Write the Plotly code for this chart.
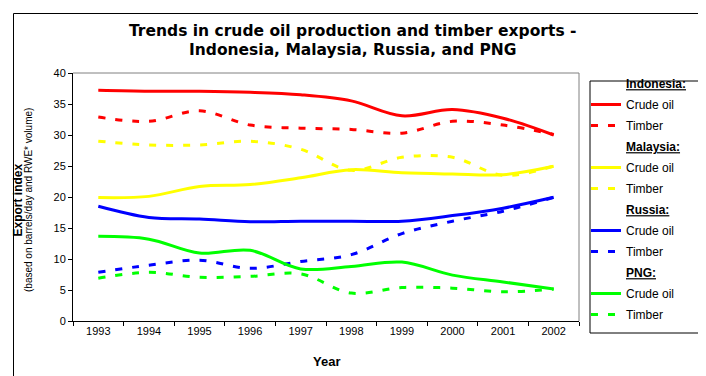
import plotly.graph_objects as go

years = ["1993", "1994", "1995", "1996", "1997", "1998", "1999", "2000", "2001", "2002"]

indo_crude = [37.2, 37.05, 37.05, 36.9, 36.5, 35.5, 33.1, 34.1, 32.7, 30.0]
indo_timber = [32.9, 32.2, 33.9, 31.6, 31.1, 30.9, 30.3, 32.2, 31.6, 30.1]
malay_crude = [19.9, 20.1, 21.7, 22.0, 23.1, 24.4, 23.9, 23.7, 23.6, 24.95]
malay_timber = [29.0, 28.4, 28.4, 29.0, 27.7, 24.3, 26.4, 26.4, 23.5, 25.0]
russia_crude = [18.5, 16.7, 16.45, 16.0, 16.1, 16.1, 16.1, 17.0, 18.2, 19.95]
russia_timber = [7.85, 9.0, 9.8, 8.5, 9.6, 10.7, 14.1, 16.1, 17.7, 19.95]
png_crude = [13.65, 13.2, 10.95, 11.4, 8.4, 8.8, 9.5, 7.4, 6.3, 5.15]
png_timber = [6.9, 7.85, 7.05, 7.2, 7.6, 4.5, 5.4, 5.3, 4.7, 5.15]

countries = ["Indonesia:", "Malaysia:", "Russia:", "PNG:"]
colors = ["#FF0000", "#FFFF00", "#0000FF", "#00FF00"]
crude = [indo_crude, malay_crude, russia_crude, png_crude]
timber = [indo_timber, malay_timber, russia_timber, png_timber]

title_lines = ["Trends in crude oil production and timber exports -",
               "Indonesia, Malaysia, Russia, and PNG"]

FONT = "Liberation Sans, Arial, sans-serif"
TFONT = "DejaVu Sans, Liberation Sans, Arial, sans-serif"

fig = go.Figure()
for i, c in enumerate(countries):
    fig.add_trace(go.Scatter(
        x=[years[0]], y=[None], mode="lines",
        line=dict(color="rgba(0,0,0,0)", width=0),
        name="<b><u>" + c + "</u></b>", legendgroup="h" + str(i),
        hoverinfo="skip"))
    fig.add_trace(go.Scatter(
        x=years, y=crude[i], mode="lines", name="Crude oil",
        legendgroup="c" + str(i),
        line=dict(color=colors[i], width=3, shape="spline", smoothing=1)))
    fig.add_trace(go.Scatter(
        x=years, y=timber[i], mode="lines", name="Timber",
        legendgroup="t" + str(i),
        line=dict(color=colors[i], width=3, shape="spline", smoothing=1,
                  dash="7px,10px")))

L, R, T, B = 65, 571, 65, 313
W, H = 706, 376
pw, ph = R - L, B - T

def px(x):
    return (x - L) / pw

def py(y):
    return (B - y) / ph

fig.update_layout(
    width=W, height=H,
    margin=dict(l=L, r=W - R, t=T, b=H - B, pad=0),
    paper_bgcolor="white", plot_bgcolor="white",
    font=dict(family=FONT, size=11, color="black"),
    showlegend=True,
    legend=dict(
        x=px(578), y=py(61), xanchor="left", yanchor="top",
        bgcolor="rgba(0,0,0,0)", borderwidth=0,
        font=dict(family=FONT, size=12, color="black"),
        traceorder="grouped", tracegroupgap=2, maxheight=340,
    ),
    xaxis=dict(
        type="category", range=[-0.5, 9.5], showgrid=False, zeroline=False,
        showline=True, linecolor="black", linewidth=1,
        ticks="outside", ticklen=4, tickcolor="black", tickson="boundaries",
        tickfont=dict(family=FONT, size=11, color="black"),
    ),
    yaxis=dict(
        range=[0, 40], dtick=5, showgrid=False, zeroline=False,
        showline=True, linecolor="black", linewidth=1,
        ticks="outside", ticklen=4, tickcolor="black",
        tickfont=dict(family=FONT, size=11, color="black"),
    ),
    shapes=[
        dict(type="line", xref="paper", yref="paper", x0=0, x1=1, y0=1, y1=1,
             line=dict(color="#808080", width=1)),
        dict(type="line", xref="paper", yref="paper", x0=1, x1=1, y0=0, y1=1,
             line=dict(color="#808080", width=1)),
        dict(type="rect", xref="paper", yref="paper",
             x0=px(582), x1=px(696), y0=py(325), y1=py(73),
             line=dict(color="black", width=1)),
        dict(type="rect", xref="paper", yref="paper",
             x0=px(5.5), x1=px(699.5), y0=py(370), y1=py(5.5),
             line=dict(color="black", width=1)),
    ],
    annotations=[
        dict(text="<b>" + title_lines[0] + "</b>", xref="paper", yref="paper",
             x=px(344), y=py(23), xanchor="center", yanchor="middle",
             showarrow=False, font=dict(family=TFONT, size=15.5, color="black")),
        dict(text="<b>" + title_lines[1] + "</b>", xref="paper", yref="paper",
             x=px(344), y=py(42), xanchor="center", yanchor="middle",
             showarrow=False, font=dict(family=TFONT, size=15.5, color="black")),
        dict(text="<b>Export index</b>", xref="paper", yref="paper",
             x=px(9.5), y=py(192), xanchor="center", yanchor="middle",
             textangle=-90, showarrow=False,
             font=dict(family=FONT, size=12, color="black")),
        dict(text="(based on barrels/day and RWE* volume)", xref="paper", yref="paper",
             x=px(20), y=py(192), xanchor="center", yanchor="middle",
             textangle=-90, showarrow=False,
             font=dict(family=FONT, size=10, color="black")),
        dict(text="<b>Year</b>", xref="paper", yref="paper",
             x=0.5, y=py(353), xanchor="center", yanchor="middle",
             showarrow=False,
             font=dict(family=FONT, size=13, color="black")),
    ],
)

fig.write_html("out.html")
